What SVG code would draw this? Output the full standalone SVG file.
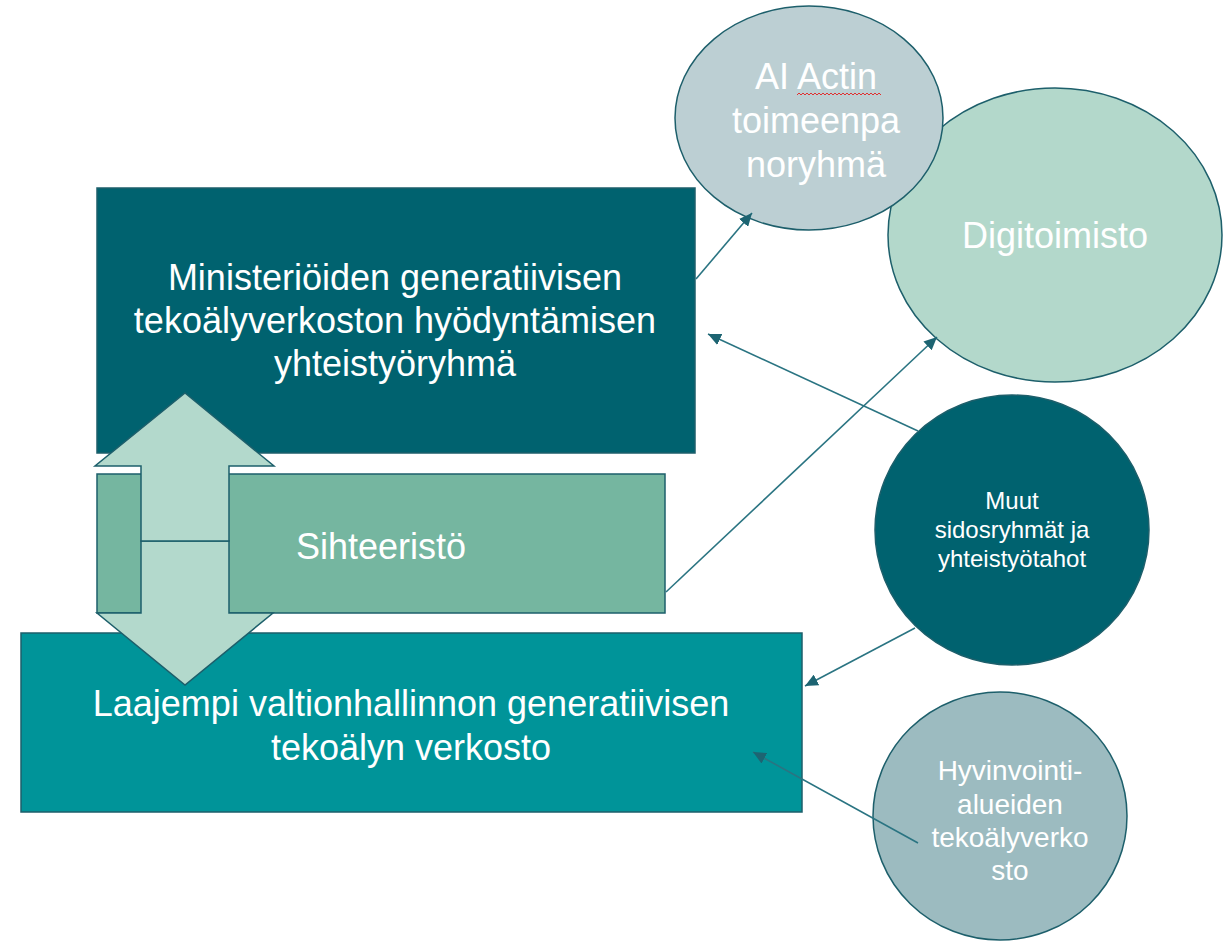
<svg xmlns="http://www.w3.org/2000/svg" width="1226" height="941" viewBox="0 0 1226 941">
<style>
  .lbl { font-family: "Liberation Sans", Arial, sans-serif; fill: #ffffff; text-anchor: middle; }
  .big { font-size: 36px; }
  .mid { font-size: 28px; }
  .sml { font-size: 24px; }
  .shape { stroke: #1d5f6b; stroke-width: 1.5; }
  .conn { stroke: #2a7482; stroke-width: 1.6; fill: none; marker-end: url(#ah); }
</style>
<defs>
  <marker id="ah" markerUnits="userSpaceOnUse" markerWidth="14" markerHeight="12" refX="13" refY="6" orient="auto">
    <path d="M0,0 L13,6 L0,12 Z" fill="#1d6472"/>
  </marker>
</defs>
<rect width="1226" height="941" fill="#ffffff"/>

<g id="node-digitoimisto">
  <ellipse class="shape" cx="1055" cy="235" rx="167" ry="147" fill="#b3d8cb"/>
  <text class="lbl big" x="1055" y="248">Digitoimisto</text>
</g>
<g id="node-aiact">
  <ellipse class="shape" cx="809" cy="118" rx="134" ry="112" fill="#bccfd3"/>
  <text class="lbl big" x="816" y="89">AI Actin</text>
  <text class="lbl big" x="816" y="133">toimeenpa</text>
  <text class="lbl big" x="816" y="177">noryhmä</text>
  <path d="M797,95 l2,-2 l2,2 l2,-2 l2,2 l2,-2 l2,2 l2,-2 l2,2 l2,-2 l2,2 l2,-2 l2,2 l2,-2 l2,2 l2,-2 l2,2 l2,-2 l2,2 l2,-2 l2,2 l2,-2 l2,2 l2,-2 l2,2 l2,-2 l2,2 l2,-2 l2,2 l2,-2 l2,2 l2,-2 l2,2 l2,-2 l2,2 l2,-2 l2,2 l2,-2 l2,2 l2,-2 l2,2 l2,-2 l2,2" fill="none" stroke="#e03030" stroke-width="1"/>
</g>

<g id="node-ministeriot">
  <rect class="shape" x="97" y="188" width="598" height="265" fill="#00626f"/>
  <text class="lbl big" x="395" y="290">Ministeriöiden generatiivisen</text>
  <text class="lbl big" x="395" y="333">tekoälyverkoston hyödyntämisen</text>
  <text class="lbl big" x="395" y="376">yhteistyöryhmä</text>
</g>
<g id="node-sihteeristo">
  <rect class="shape" x="97" y="474" width="568" height="139" fill="#75b6a0"/>
  <text class="lbl big" x="381" y="559">Sihteeristö</text>
</g>
<g id="node-laajempi">
  <rect class="shape" x="21" y="633" width="781" height="179" fill="#009499"/>
  <text class="lbl big" x="411" y="716">Laajempi valtionhallinnon generatiivisen</text>
  <text class="lbl big" x="411" y="760">tekoälyn verkosto</text>
</g>
<g id="node-doublearrow">
  <polygon class="shape" points="141,541 229,541 229,613 273,613 185,685 97,613 141,613" fill="#b3d9cc"/>
  <polygon class="shape" points="185,393 274,466 229,466 229,541 141,541 141,466 95,466" fill="#b3d9cc"/>
</g>

<g id="node-muut">
  <ellipse class="shape" cx="1012" cy="530" rx="137" ry="135" fill="#00626f" stroke="none"/>
  <text class="lbl sml" x="1012" y="509">Muut</text>
  <text class="lbl sml" x="1012" y="538">sidosryhmät ja</text>
  <text class="lbl sml" x="1012" y="567">yhteistyötahot</text>
</g>
<g id="node-hyvinvointi">
  <ellipse class="shape" cx="1000" cy="816" rx="127" ry="124" fill="#9cbbc0"/>
  <text class="lbl mid" x="1010" y="780">Hyvinvointi-</text>
  <text class="lbl mid" x="1010" y="814">alueiden</text>
  <text class="lbl mid" x="1010" y="847">tekoälyverko</text>
  <text class="lbl mid" x="1010" y="880">sto</text>
</g>

<g id="connectors">
  <line class="conn" x1="696" y1="279" x2="752" y2="213"/>
  <line class="conn" x1="918" y1="431" x2="708" y2="334"/>
  <line class="conn" x1="666" y1="592" x2="937" y2="337"/>
  <line class="conn" x1="915" y1="628" x2="805" y2="686"/>
  <line class="conn" x1="918" y1="843" x2="753" y2="752"/>
</g>
</svg>
